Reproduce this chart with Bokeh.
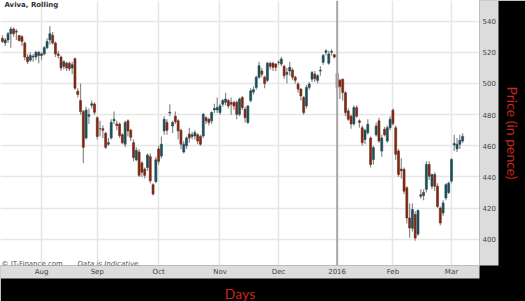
from bokeh.plotting import figure
from bokeh.models import FixedTicker, Label, Span, Range1d, ColumnDataSource, LinearAxis
from bokeh.embed import file_html
from bokeh.resources import INLINE

# ---- data, one candle per trading day ----
opens = [529, 526, 528, 532, 535, 533, 530.8, 530, 526, 517, 515, 517, 517, 518, 519, 519, 523, 528, 531, 526,
         519, 517, 511, 513, 513, 510, 516, 495, 489, 482, 465, 479, 486, 486.8, 478, 471, 471, 468, 461, 465,
         476, 474, 474, 467, 461, 476, 470, 462, 451, 456, 449, 445, 446, 453, 435, 437, 458, 453.4, 469.5, 475,
         481, 472.7, 479, 476, 470, 456, 460, 467.5, 466, 466.3, 467, 466, 466.3, 478, 477, 476, 483, 483, 481.3, 486.7,
         488, 489, 487.8, 487.8, 488, 480.2, 491, 483.5, 475, 489, 494.5, 497.5, 504, 508, 504, 502, 513, 513, 512.5, 513.6,
         512.5, 511, 506, 508, 508.6, 504, 499.6, 496.4, 491, 485.6, 497.5, 502.8, 506, 502, 508, 513.6, 520, 513, 520, 518.5,
         506.5, 502, 502.8, 494, 482.4, 479, 474, 484.5, 476, 471.6, 464, 468.4, 465, 451.2, 467, 476, 456.6, 470.6, 463, 471.6,
         482.8, 471.6, 456.6, 445, 444.8, 433, 413.6, 407, 415.8, 403.3, 428.6, 428, 432, 448, 434, 441.5, 434, 420, 416.8, 426.5,
         430, 437.3, 460.5, 458, 461, 463]
highs = [531, 529, 533, 536.5, 536, 535, 531, 531, 527, 519, 520, 519, 521, 521, 520, 524, 529, 537, 533, 527,
         521, 518, 515, 514, 514, 514, 516.5, 497, 500, 483, 485, 484, 489, 488, 479, 476, 473, 469, 465, 477,
         482, 476, 475, 468, 476, 477, 471, 464, 459, 458, 450, 446, 455, 455, 436, 453, 460, 466, 479, 477,
         486.7, 476, 482, 477, 471, 463, 466, 471.6, 469, 470, 468, 467, 481, 479, 478, 482, 487, 491, 487, 490,
         494, 490, 491, 489, 489, 491, 492, 485, 486, 497, 498, 505, 514, 510, 505, 514, 514, 514, 513, 515,
         517, 512, 510, 514, 510, 505, 501, 497, 492, 499, 501, 508, 508, 506, 511, 519, 522, 521, 522, 519,
         508, 503, 503, 495, 484, 480, 486, 486, 477, 473, 471, 477, 466, 460, 475, 478, 467, 472, 473, 479,
         484, 473, 458, 452, 446, 434, 423, 423, 418, 419, 432, 432, 450, 450, 442, 443, 436, 421, 425, 436,
         437, 452, 467, 465, 467, 468]
lows = [526, 524, 526, 523, 530, 528, 527, 524, 515, 512.5, 514, 514, 515, 513, 515, 518, 522, 525, 525, 517,
        516, 508, 509, 508, 508, 506, 496, 491, 480, 449, 464, 474, 484, 480, 464, 466, 465, 458, 460, 464,
        474, 470, 465, 461, 459, 466, 463, 450, 450, 440, 440, 439, 444, 436, 428, 436, 448, 452, 467, 467,
        479, 468, 474, 464, 458, 455, 458, 462, 464, 464, 461, 460, 465, 474, 473, 474, 481, 481, 480, 485,
        486, 484, 480, 483, 477, 479, 483, 475, 474, 488, 493, 496, 503, 504, 497, 501, 509, 508, 508, 512,
        511, 503, 500, 505, 502, 500, 494, 489, 480, 484, 496, 501, 501, 500, 505, 512, 518, 512, 518, 516,
        494, 490, 489, 479, 476, 471, 473, 478, 471.6, 460, 461, 467, 446, 448, 466, 462, 453, 466, 462, 470,
        473, 451, 440, 439, 429, 410, 401, 405, 399, 402, 426, 425, 430, 438, 432, 431, 420, 409, 415, 425,
        429, 436, 456.6, 456, 458, 462]
closes = [527, 528, 532, 535, 532, 533.5, 527.6, 527, 517, 514, 518, 517.5, 520, 520, 518, 523, 527, 532, 526, 519,
          518, 510, 514, 510, 509.5, 512, 497, 493, 482, 459, 483, 480, 487, 481.5, 466, 471, 470, 459, 462, 475,
          477, 473, 466.5, 462, 475, 469.5, 465.4, 452.5, 457, 441, 443, 441, 454, 437.5, 429, 451, 450, 461, 477, 470,
          481.5, 474.9, 475.5, 469.5, 461, 461, 465, 465, 467, 468.4, 463, 461, 480.2, 476, 475, 481.3, 484, 484.5, 485.6, 489,
          490, 485.6, 486.7, 485.6, 480.2, 490, 484.5, 478, 485.6, 495.3, 496, 504, 511.4, 506, 500, 513, 511, 510.4, 510.4, 513.5,
          515.7, 505, 507, 510.4, 504, 502, 496.4, 492, 481.3, 497.5, 499.6, 507, 503, 505, 508.5, 518, 521, 519, 520.5, 517,
          497.5, 498, 494.2, 481.3, 477, 474, 484.5, 479, 475, 462, 470, 473.8, 448, 458.8, 472.7, 463, 465, 467, 471.6, 477,
          474.2, 454.5, 441.5, 444, 430.8, 413.6, 407.2, 419, 400.7, 418.5, 427.5, 430, 448, 440.5, 441.5, 434, 421, 410.4, 423.3, 435,
          436, 451.2, 461.5, 461, 463.5, 466]

month_ticks = [14, 34, 56, 78, 99, 120, 140, 161]
month_labels = ["Aug", "Sep", "Oct", "Nov", "Dec", "2016", "Feb", "Mar"]
price_ticks = [400, 420, 440, 460, 480, 500, 520, 540]

UP = "#1d4d57"
DOWN = "#7a2914"
RED_TXT = "#c8261c"

n = len(closes)
xs = list(range(n))
tops = [max(o, c) for o, c in zip(opens, closes)]
bots = [min(o, c) for o, c in zip(opens, closes)]
cols = [UP if c >= o else DOWN for o, c in zip(opens, closes)]
src = ColumnDataSource(dict(x=xs, high=highs, low=lows, top=tops, bottom=bots, color=cols))

p = figure(frame_width=479, frame_height=265,
           x_range=Range1d(-0.7, 171.05), y_range=Range1d(383.1, 553.3),
           output_backend="svg", toolbar_location=None, y_axis_location="right",
           min_border_left=0, min_border_top=0, min_border_right=46, min_border_bottom=36,
           border_fill_color="black", background_fill_color="white", outline_line_color=None)

# axes
p.xaxis.ticker = FixedTicker(ticks=month_ticks)
p.xaxis.major_label_overrides = {t: l for t, l in zip(month_ticks, month_labels)}
p.yaxis.ticker = FixedTicker(ticks=price_ticks)
for ax in (p.xaxis[0], p.yaxis[0]):
    ax.axis_line_color = "#bdbdbd"
    ax.major_tick_line_color = None
    ax.minor_tick_line_color = None
    ax.major_tick_out = 0
    ax.major_tick_in = 0
    ax.minor_tick_out = 0
    ax.major_label_text_font = "DejaVu Sans"
    ax.major_label_text_font_size = "7px"
    ax.major_label_text_color = "#444444"
    ax.major_label_standoff = 2
    ax.background_fill_color = "#dcdcdc"
p.yaxis[0].major_tick_out = 2
p.yaxis[0].major_label_standoff = 1
p.yaxis[0].major_label_text_align = "left"

# outer axes only carrying the red titles
def title_axis(label, standoff):
    a = LinearAxis(ticker=FixedTicker(ticks=[]), axis_label=label,
                   axis_line_color=None, major_tick_line_color=None, minor_tick_line_color=None,
                   major_tick_out=0, major_tick_in=0, minor_tick_out=0, minor_tick_in=0,
                   major_label_text_font_size="0px", major_label_standoff=0,
                   axis_label_text_font="Lato", axis_label_text_font_size="14px",
                   axis_label_text_font_style="normal", axis_label_text_color=RED_TXT,
                   axis_label_standoff=standoff)
    return a

p.add_layout(title_axis("Days", 6), "below")
p.add_layout(title_axis("Price (in pence)", 5), "right")

p.xgrid.grid_line_color = "#e6e6e6"
p.ygrid.grid_line_color = "#e6e6e6"
p.xgrid.grid_line_width = 1.5
p.ygrid.grid_line_width = 1.5

p.add_layout(Span(location=month_ticks[month_labels.index("2016")], dimension="height",
                  line_color="#a9a9a9", line_width=2))

# candles
p.segment(x0="x", y0="high", x1="x", y1="low", source=src, line_color="#8a8a8a", line_width=1.2)
p.vbar(x="x", width=0.72, top="top", bottom="bottom", source=src,
       fill_color="color", line_color="color", line_width=0.6)

# texts inside the frame
p.add_layout(Label(x=0.7, y=553.0, text="Aviva, Rolling", text_font="DejaVu Sans",
                   text_font_size="7px", text_font_style="bold", text_color="#333333",
                   text_baseline="top"))
p.add_layout(Label(x=-0.35, y=384.2, text="\u00a9 IT-Finance.com", text_font="DejaVu Sans",
                   text_font_size="7px", text_color="#555555", text_baseline="alphabetic"))
p.add_layout(Label(x=26.9, y=384.2, text="Data is Indicative.", text_font="DejaVu Sans",
                   text_font_size="7px", text_font_style="italic", text_color="#555555",
                   text_baseline="alphabetic"))

open("out.html", "w").write(file_html(p, INLINE))
